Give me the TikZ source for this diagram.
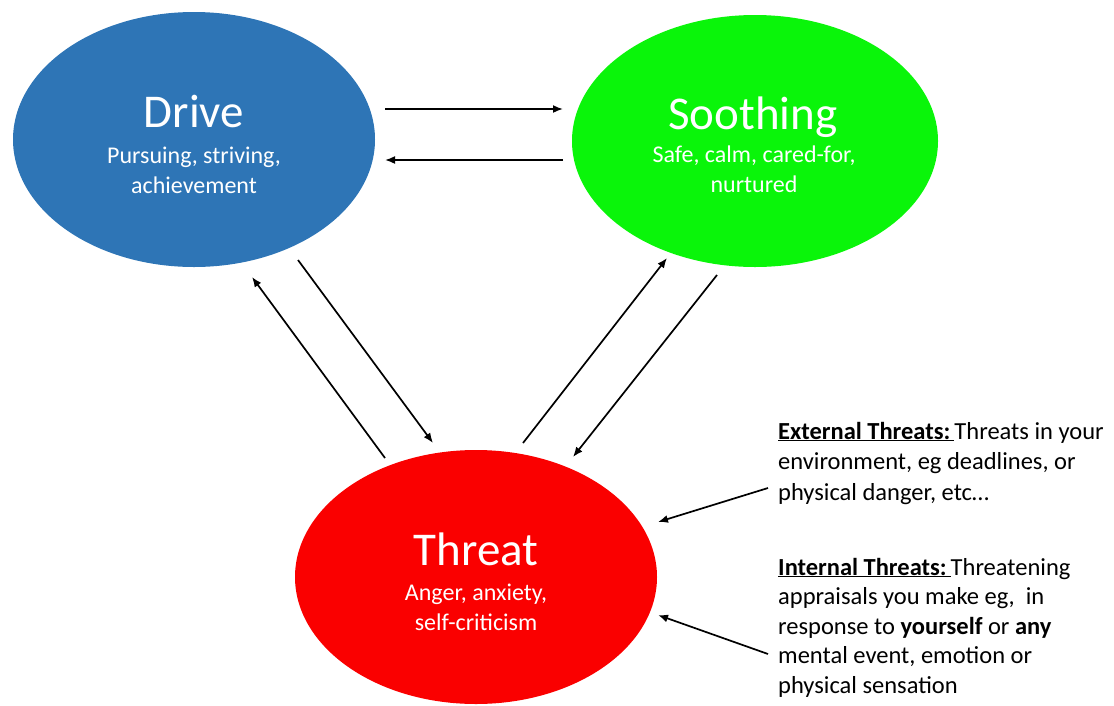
\documentclass[tikz,border=0pt]{standalone}
\usepackage{fontspec}
\setmainfont{Carlito}
\usetikzlibrary{shapes.geometric,arrows.meta}
\definecolor{driveblue}{RGB}{46,117,182}
\definecolor{soothgreen}{RGB}{10,245,10}
\definecolor{threatred}{RGB}{250,0,0}
\begin{document}
\begin{tikzpicture}[x=1pt,y=-1pt,
  lobe/.style={ellipse, draw=none, inner sep=0pt},
  title/.style={text=white, font=\fontsize{47}{52}\selectfont, anchor=base, inner sep=0pt},
  sub/.style={text=white, font=\fontsize{24}{30}\selectfont, align=center, anchor=base, inner sep=0pt},
  note/.style={text=black, font=\fontsize{24.5}{30.5}\selectfont, align=left, anchor=base west, inner sep=0pt},
  link/.style={line width=1.7pt, -{Latex[length=10pt,width=8pt]}}
]
\useasboundingbox (0,0) rectangle (1114,705);

\node[lobe, fill=driveblue, minimum width=362pt, minimum height=255pt] (drive) at (194,139.5) {};
\node[lobe, fill=soothgreen, minimum width=366pt, minimum height=252pt] (sooth) at (755,141) {};
\node[lobe, fill=threatred, minimum width=362pt, minimum height=254pt] (threat) at (476,577) {};

\node[title] (drivet) at (194,127) {Drive};
\node[sub] (drives) at (194,193) {Pursuing, striving,\\achievement};
\node[title] (sootht) at (753,129) {Soothing};
\node[sub] (sooths) at (754,192) {Safe, calm, cared-for,\\nurtured};
\node[title] (threatt) at (476,565) {Threat};
\node[sub] (threats) at (476,630) {Anger, anxiety,\\self-criticism};

\node[note] (ext) at (778,500) {\underline{\textbf{External Threats:}\,}Threats in your\\environment, eg deadlines, or\\physical danger, etc\ldots};
\node[note, font=\fontsize{24.5}{29.5}\selectfont] (int) at (778,693) {\underline{\textbf{Internal Threats:}\,}Threatening\\appraisals you make eg, \ in\\response to \textbf{yourself} or \textbf{any}\\mental event, emotion or\\physical sensation};

\coordinate (ds1) at (385,109);
\coordinate (ds2) at (563,109);
\coordinate (sd1) at (563,160);
\coordinate (sd2) at (385,160);
\coordinate (td1) at (385,458);
\coordinate (td2) at (252,277);
\coordinate (dt1) at (298,260);
\coordinate (dt2) at (433,443);
\coordinate (ts1) at (523,443);
\coordinate (ts2) at (667,258);
\coordinate (st1) at (717,275);
\coordinate (st2) at (573,457);
\coordinate (ex1) at (768,488);
\coordinate (ex2) at (658,522);
\coordinate (in1) at (768,654);
\coordinate (in2) at (658,615);

\draw[link] (ds1) -- (ds2);
\draw[link] (sd1) -- (sd2);
\draw[link] (td1) -- (td2);
\draw[link] (dt1) -- (dt2);
\draw[link] (ts1) -- (ts2);
\draw[link] (st1) -- (st2);
\draw[link] (ex1) -- (ex2);
\draw[link] (in1) -- (in2);
\end{tikzpicture}
\end{document}
